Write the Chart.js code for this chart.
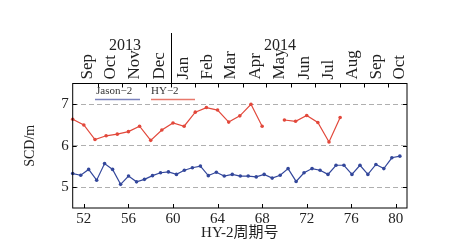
<!DOCTYPE html>
<html>
<head>
<meta charset="utf-8">
<script src="https://cdn.jsdelivr.net/npm/chart.js@4/dist/chart.umd.min.js"></script>
<style>
  html, body { margin: 0; padding: 0; background: #fff; }
  #wrap { width: 464px; height: 250px; }
</style>
</head>
<body>
<div id="wrap"><canvas id="c" width="464" height="250"></canvas></div>
<script>
// Jason-2 points, placed on the HY-2 cycle axis
const jasonX = [51.00, 51.72, 52.43, 53.15, 53.86, 54.58, 55.30, 56.01, 56.73, 57.44,
  58.16, 58.88, 59.59, 60.31, 61.02, 61.74, 62.46, 63.17, 63.89, 64.60,
  65.32, 66.04, 66.75, 67.47, 68.18, 68.90, 69.62, 70.33, 71.05, 71.76,
  72.48, 73.20, 73.91, 74.63, 75.34, 76.06, 76.78, 77.49, 78.21, 78.92,
  79.64, 80.36];
const jasonSCD = [5.33, 5.29, 5.43, 5.17, 5.57, 5.43, 5.07, 5.27, 5.13, 5.19,
  5.28, 5.35, 5.37, 5.31, 5.41, 5.47, 5.51, 5.28, 5.36, 5.27,
  5.31, 5.27, 5.27, 5.25, 5.31, 5.22, 5.29, 5.45, 5.14, 5.35,
  5.45, 5.41, 5.31, 5.53, 5.53, 5.31, 5.53, 5.31, 5.55, 5.45,
  5.71, 5.75];

// HY-2 cycles (69 missing)
const hy2Cycle = [51, 52, 53, 54, 55, 56, 57, 58, 59, 60, 61, 62, 63,
  64, 65, 66, 67, 68, 69, 70, 71, 72, 73, 74, 75];
const hy2SCD = [6.64, 6.50, 6.15, 6.24, 6.28, 6.34, 6.47, 6.13, 6.38, 6.55, 6.47, 6.81, 6.92,
  6.86, 6.57, 6.72, 7.00, 6.47, null, 6.62, 6.59, 6.73, 6.56, 6.09, 6.68];

const xTicks = [52, 56, 60, 64, 68, 72, 76, 80];
const yTicks = [5, 6, 7];

// top date axis, in HY-2 cycle units
const monthNames = ["Sep", "Oct", "Nov", "Dec", "Jan", "Feb", "Mar", "Apr",
  "May", "Jun", "Jul", "Aug", "Sep", "Oct"];
const monthMid = [52.2, 54.35, 56.5, 58.7, 60.9, 63.0, 65.1, 67.3,
  69.45, 71.7, 73.85, 76.05, 78.2, 80.25];
const monthEdges = [53.24, 55.45, 57.6, 59.81, 62.02, 64.02, 66.24, 68.38,
  70.6, 72.74, 74.95, 77.17, 79.31];
const yearLabels = ["2013", "2014"];
const yearPos = [55.7, 69.6];
const yearBreak = 59.81;

const SERIF = "'Liberation Serif', 'Times New Roman', 'Noto Sans CJK SC', serif";
const BLUE = "#33479b";
const RED = "#e2483b";

const framePlugin = {
  id: "frame",
  afterDraw(chart) {
    const { ctx, chartArea: a, scales } = chart;
    const x = scales.x, y = scales.y;
    ctx.save();
    ctx.strokeStyle = "#000";
    ctx.lineWidth = 1;
    ctx.strokeRect(a.left, a.top, a.right - a.left, a.bottom - a.top);
    ctx.beginPath();
    xTicks.forEach(v => {
      const px = Math.round(x.getPixelForValue(v)) + 0.5;
      ctx.moveTo(px, a.bottom); ctx.lineTo(px, a.bottom - 4);
    });
    monthEdges.forEach(v => {
      const px = Math.round(x.getPixelForValue(v)) + 0.5;
      ctx.moveTo(px, a.top); ctx.lineTo(px, a.top + 4);
    });
    yTicks.forEach(v => {
      const py = Math.round(y.getPixelForValue(v)) + 0.5;
      ctx.moveTo(a.left, py); ctx.lineTo(a.left + 4, py);
      ctx.moveTo(a.right, py); ctx.lineTo(a.right - 4, py);
    });
    // year divider
    const bx = Math.round(x.getPixelForValue(yearBreak)) + 0.5;
    ctx.moveTo(bx, a.top); ctx.lineTo(bx, 33);
    ctx.stroke();

    ctx.fillStyle = "#222";
    ctx.font = "16px " + SERIF;
    ctx.textAlign = "center";
    ctx.textBaseline = "middle";
    yearLabels.forEach((t, i) => ctx.fillText(t, x.getPixelForValue(yearPos[i]), 46));

    // month names, rotated, reading upward from the top axis
    ctx.font = "17px " + SERIF;
    ctx.textAlign = "left";
    monthNames.forEach((t, i) => {
      ctx.save();
      ctx.translate(x.getPixelForValue(monthMid[i]) + 1, a.top - 4);
      ctx.rotate(-Math.PI / 2);
      ctx.fillText(t, 0, 0);
      ctx.restore();
    });

    // legend inside the plot
    ctx.font = "11px " + SERIF;
    ctx.fillStyle = "#333";
    ctx.fillText("Jason\u22122", 96, 91);
    ctx.fillText("HY\u22122", 151, 91);
    ctx.lineWidth = 1.3;
    ctx.strokeStyle = "#7b82bd";
    ctx.beginPath(); ctx.moveTo(95, 99.5); ctx.lineTo(140, 99.5); ctx.stroke();
    ctx.strokeStyle = "#e8786b";
    ctx.beginPath(); ctx.moveTo(151, 99.5); ctx.lineTo(195, 99.5); ctx.stroke();
    ctx.restore();
  }
};

new Chart(document.getElementById("c"), {
  type: "line",
  data: {
    datasets: [
      {
        label: "Jason-2",
        data: jasonX.map((v, i) => ({ x: v, y: jasonSCD[i] })),
        borderColor: BLUE,
        backgroundColor: BLUE,
        borderWidth: 1.2,
        pointRadius: 1.8,
        pointBorderWidth: 0,
        clip: false,
      },
      {
        label: "HY-2",
        data: hy2Cycle.map((v, i) => ({ x: v, y: hy2SCD[i] })),
        borderColor: RED,
        backgroundColor: RED,
        borderWidth: 1.2,
        pointRadius: 1.8,
        pointBorderWidth: 0,
        spanGaps: false,
        clip: false,
      },
    ],
  },
  options: {
    responsive: false,
    animation: false,
    devicePixelRatio: 1,
    layout: { padding: { left: 0, right: 57, top: 83.5, bottom: 0 } },
    plugins: {
      legend: { display: false },
      tooltip: { enabled: false },
    },
    scales: {
      x: {
        type: "linear",
        position: "bottom",
        min: 51,
        max: 81,
        afterBuildTicks: s => { s.ticks = xTicks.map(v => ({ value: v })); },
        afterFit: s => { s.height = 42; },
        ticks: {
          autoSkip: false,
          maxRotation: 0,
          padding: 2,
          color: "#222",
          font: { family: SERIF, size: 15 },
        },
        grid: { display: false, drawTicks: false },
        border: { display: false },
        title: {
          display: true,
          text: "HY-2周期号",
          color: "#222",
          font: { family: SERIF, size: 15 },
          padding: { top: 0, bottom: 8 },
        },
      },
      y: {
        min: 4.5,
        max: 7.5,
        afterBuildTicks: s => { s.ticks = yTicks.map(v => ({ value: v })); },
        afterFit: s => { s.width = 72.7; },
        ticks: {
          padding: 4,
          color: "#222",
          font: { family: SERIF, size: 15 },
        },
        grid: {
          color: "#9a9a9a",
          lineWidth: 0.8,
          drawTicks: false,
        },
        border: { display: false, dash: [5, 3] },
        title: {
          display: true,
          text: "SCD/m",
          color: "#222",
          font: { family: SERIF, size: 14 },
          padding: { top: 22, bottom: 0 },
        },
      },
    },
  },
  plugins: [framePlugin],
});
</script>
</body>
</html>
